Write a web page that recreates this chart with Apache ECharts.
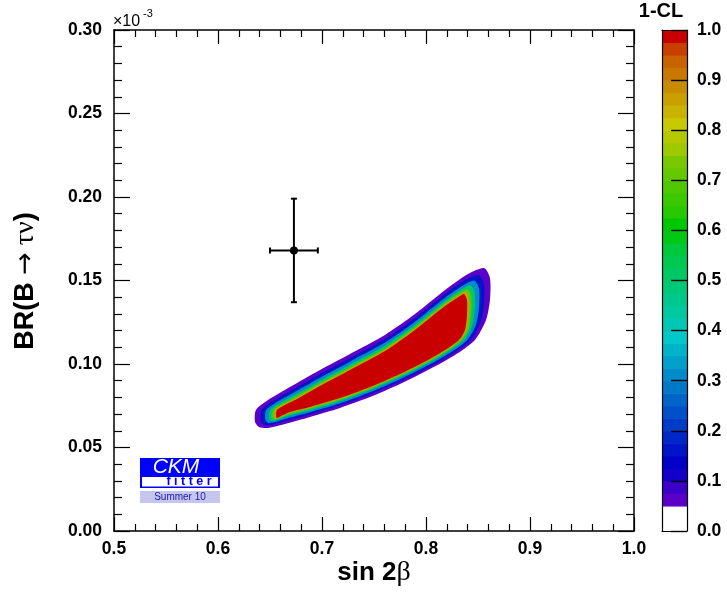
<!DOCTYPE html>
<html>
<head>
<meta charset="utf-8">
<script src="https://cdn.jsdelivr.net/npm/echarts@6/dist/echarts.min.js"></script>
<style>
html,body{margin:0;padding:0;background:#fff;}
#c{width:727px;height:600px;}
</style>
</head>
<body>
<div id="c"></div>
<script>
// ---------------- data ----------------
// measurement: sin 2beta and BR(B -> tau nu) [x 1e-3]
const measPoint = [0.673, 0.168];
const measErr = [0.023, 0.031];

// 1-CL contour levels (outer -> inner) and their closed contours [sin2b, BR]
const contourLevels = [0.05, 0.15, 0.3, 0.5, 0.7, 0.85, 0.975];
const contour005 = [[0.6356,0.0653],[0.6365,0.0725],[0.6481,0.0784],[0.6692,0.0862],[0.6981,0.0964],[0.7269,0.1060],[0.7606,0.1174],[0.7894,0.1299],[0.8183,0.1443],[0.8404,0.1539],[0.8558,0.1575],[0.8615,0.1515],[0.8615,0.1383],[0.8577,0.1263],[0.8471,0.1144],[0.8279,0.1054],[0.8038,0.0970],[0.7750,0.0880],[0.7462,0.0802],[0.7173,0.0737],[0.6885,0.0683],[0.6644,0.0641],[0.6481,0.0617],[0.6394,0.0623]];
const contour015 = [[0.6411,0.0662],[0.6420,0.0725],[0.6525,0.0776],[0.6711,0.0843],[0.6981,0.0938],[0.7269,0.1034],[0.7606,0.1148],[0.7894,0.1274],[0.8183,0.1417],[0.8383,0.1504],[0.8506,0.1533],[0.8556,0.1480],[0.8556,0.1357],[0.8522,0.1247],[0.8430,0.1144],[0.8253,0.1062],[0.8034,0.0984],[0.7750,0.0896],[0.7462,0.0819],[0.7173,0.0753],[0.6885,0.0699],[0.6658,0.0660],[0.6514,0.0636],[0.6441,0.0637]];
const contour030 = [[0.6453,0.0670],[0.6463,0.0725],[0.6560,0.0770],[0.6725,0.0828],[0.6981,0.0918],[0.7269,0.1014],[0.7606,0.1128],[0.7894,0.1253],[0.8183,0.1397],[0.8367,0.1475],[0.8465,0.1500],[0.8510,0.1452],[0.8510,0.1337],[0.8480,0.1235],[0.8397,0.1144],[0.8233,0.1068],[0.8029,0.0996],[0.7750,0.0909],[0.7462,0.0831],[0.7173,0.0765],[0.6885,0.0711],[0.6667,0.0675],[0.6540,0.0651],[0.6477,0.0648]];
const contour050 = [[0.6491,0.0677],[0.6501,0.0725],[0.6590,0.0764],[0.6738,0.0814],[0.6981,0.0900],[0.7269,0.0996],[0.7606,0.1110],[0.7894,0.1235],[0.8183,0.1379],[0.8352,0.1451],[0.8429,0.1471],[0.8467,0.1427],[0.8467,0.1319],[0.8441,0.1223],[0.8368,0.1144],[0.8214,0.1074],[0.8026,0.1006],[0.7750,0.0920],[0.7462,0.0843],[0.7173,0.0777],[0.6885,0.0723],[0.6677,0.0689],[0.6564,0.0665],[0.6511,0.0659]];
const contour070 = [[0.6521,0.0682],[0.6531,0.0725],[0.6614,0.0760],[0.6747,0.0804],[0.6981,0.0886],[0.7269,0.0981],[0.7606,0.1095],[0.7894,0.1221],[0.8183,0.1365],[0.8340,0.1431],[0.8400,0.1447],[0.8434,0.1407],[0.8434,0.1305],[0.8412,0.1214],[0.8345,0.1144],[0.8200,0.1078],[0.8023,0.1014],[0.7750,0.0929],[0.7462,0.0851],[0.7173,0.0786],[0.6885,0.0732],[0.6684,0.0699],[0.6584,0.0675],[0.6537,0.0667]];
const contour085 = [[0.6541,0.0686],[0.6551,0.0725],[0.6631,0.0757],[0.6754,0.0796],[0.6981,0.0876],[0.7269,0.0972],[0.7606,0.1086],[0.7894,0.1211],[0.8183,0.1355],[0.8333,0.1418],[0.8381,0.1432],[0.8412,0.1394],[0.8412,0.1295],[0.8391,0.1208],[0.8330,0.1144],[0.8190,0.1081],[0.8021,0.1020],[0.7750,0.0935],[0.7462,0.0857],[0.7173,0.0792],[0.6885,0.0738],[0.6688,0.0707],[0.6596,0.0683],[0.6554,0.0672]];
const contour0975 = [[0.6558,0.0689],[0.6567,0.0725],[0.6644,0.0755],[0.6760,0.0790],[0.6981,0.0868],[0.7269,0.0964],[0.7606,0.1078],[0.7894,0.1204],[0.8183,0.1347],[0.8327,0.1407],[0.8365,0.1419],[0.8394,0.1383],[0.8394,0.1287],[0.8375,0.1204],[0.8317,0.1144],[0.8183,0.1084],[0.8019,0.1024],[0.7750,0.0940],[0.7462,0.0862],[0.7173,0.0796],[0.6885,0.0743],[0.6692,0.0713],[0.6606,0.0689],[0.6567,0.0677]];
const contours = [contour005, contour015, contour030, contour050, contour070, contour085, contour0975];

// colour palette of the 1-CL scale (bands of 0.025 from 0 to 1)
const cbStep = 0.025;
const paletteColors = [
  '#ffffff','#ffffff','#5a00c8','#3c00c8','#1400c8','#0000c8','#0014c8','#0028c8',
  '#003cc8','#0050c8','#0064c8','#0078c8','#008cc8','#00a0c8','#00b4c8','#00c8c8',
  '#00c8b4','#00c8a0','#00c88c','#00c878','#00c864','#00c850','#00c83c','#00c814',
  '#00c800','#28c800','#3cc800','#50c800','#64c800','#78c800','#a0c800','#b4c800',
  '#c8c800','#c8b400','#c8a000','#c88c00','#c87800','#c86400','#c84000','#c80000'
];

// axis ranges
const xRange = [0.5, 1.0], xStep = 0.1;
const yRange = [0.0, 0.30], yStep = 0.05;
const cbRange = [0.0, 1.0], cbTickStep = 0.1;

// ---------------- chart ----------------
const FONT = '"Liberation Sans", Arial, Helvetica, sans-serif';
const SERIF = '"Liberation Serif", "Times New Roman", serif';
const chart = echarts.init(document.getElementById('c'), null, {renderer: 'canvas'});

function levelColor(L) {
  return paletteColors[Math.min(paletteColors.length - 1, Math.floor(L / cbStep + 1e-6))];
}

const lineStyle = {color: '#000', width: 1.5};
const tickStyle = {color: '#000', width: 1.2};
const labelStyle = {fontFamily: FONT, fontWeight: 'bold', fontSize: 17.5, color: '#000'};

function mainX(pos, showLabel) {
  return {
    type: 'value', gridIndex: 0, position: pos, min: xRange[0], max: xRange[1], interval: xStep, z: 10,
    axisLine: {show: true, onZero: false, lineStyle: lineStyle},
    axisTick: {show: true, inside: true, length: 14, lineStyle: tickStyle},
    minorTick: {show: true, splitNumber: 5, length: 7, lineStyle: tickStyle},
    axisLabel: Object.assign({show: showLabel, margin: 9, formatter: v => v.toFixed(1)}, labelStyle),
    splitLine: {show: false}
  };
}
function mainY(pos, showLabel) {
  return {
    type: 'value', gridIndex: 0, position: pos, min: yRange[0], max: yRange[1], interval: yStep, z: 10,
    axisLine: {show: true, onZero: false, lineStyle: lineStyle},
    axisTick: {show: true, inside: true, length: 16, lineStyle: tickStyle},
    minorTick: {show: true, splitNumber: 5, length: 8, lineStyle: tickStyle},
    axisLabel: Object.assign({show: showLabel, margin: 12, formatter: v => v.toFixed(2)}, labelStyle),
    splitLine: {show: false}
  };
}
function cbFrameX(pos) {
  return {
    type: 'value', gridIndex: 1, position: pos, min: 0, max: 1, z: 10,
    axisLine: {show: true, onZero: false, lineStyle: {color: '#000', width: 1.2}},
    axisTick: {show: false}, axisLabel: {show: false}, splitLine: {show: false}
  };
}

const option = {
  animation: false,
  backgroundColor: '#ffffff',
  grid: [
    {left: 114, top: 30, width: 520, height: 501},
    {left: 662, top: 30, width: 25, height: 501}
  ],
  xAxis: [mainX('bottom', true), mainX('top', false), cbFrameX('bottom'), cbFrameX('top')],
  yAxis: [
    mainY('left', true), mainY('right', false),
    {
      type: 'value', gridIndex: 1, position: 'right', min: cbRange[0], max: cbRange[1], interval: cbTickStep, z: 10,
      axisLine: {show: true, onZero: false, lineStyle: {color: '#000', width: 1.2}},
      axisTick: {show: true, inside: true, length: 16, lineStyle: {color: '#000', width: 1.4}},
      axisLabel: Object.assign({margin: 10, formatter: v => v.toFixed(1)}, labelStyle),
      splitLine: {show: false}
    },
    {
      type: 'value', gridIndex: 1, position: 'left', min: cbRange[0], max: cbRange[1], z: 10,
      axisLine: {show: true, onZero: false, lineStyle: {color: '#000', width: 1.2}},
      axisTick: {show: false}, axisLabel: {show: false}, splitLine: {show: false}
    }
  ],
  series: [
    {
      type: 'custom', name: 'contours', xAxisIndex: 0, yAxisIndex: 0, z: 2, clip: true,
      data: contours.map((c, i) => ({value: [c[0][0], c[0][1], contourLevels[i]]})),
      renderItem: function (params, api) {
        const i = params.dataIndex;
        const pts = contours[i].map(p => api.coord(p));
        return {
          type: 'polygon', z2: i,
          shape: {points: pts, smooth: 0.25},
          style: {fill: levelColor(contourLevels[i]), stroke: null}
        };
      }
    },
    {
      type: 'custom', name: 'measurement', xAxisIndex: 0, yAxisIndex: 0, z: 5,
      data: [[measPoint[0], measPoint[1], measErr[0], measErr[1]]],
      renderItem: function (params, api) {
        const x = api.value(0), y = api.value(1), ex = api.value(2), ey = api.value(3);
        const c = api.coord([x, y]);
        const l = api.coord([x - ex, y]), r = api.coord([x + ex, y]);
        const t = api.coord([x, y + ey]), b = api.coord([x, y - ey]);
        const st = {stroke: '#000', lineWidth: 2};
        const cap = 3;
        return {
          type: 'group',
          children: [
            {type: 'line', shape: {x1: l[0], y1: l[1], x2: r[0], y2: r[1]}, style: st},
            {type: 'line', shape: {x1: t[0], y1: t[1], x2: b[0], y2: b[1]}, style: st},
            {type: 'line', shape: {x1: l[0], y1: l[1] - cap, x2: l[0], y2: l[1] + cap}, style: st},
            {type: 'line', shape: {x1: r[0], y1: r[1] - cap, x2: r[0], y2: r[1] + cap}, style: st},
            {type: 'line', shape: {x1: t[0] - cap, y1: t[1], x2: t[0] + cap, y2: t[1]}, style: st},
            {type: 'line', shape: {x1: b[0] - cap, y1: b[1], x2: b[0] + cap, y2: b[1]}, style: st},
            {type: 'circle', shape: {cx: c[0], cy: c[1], r: 4}, style: {fill: '#000'}}
          ]
        };
      }
    },
    {
      type: 'custom', name: 'colorbar', xAxisIndex: 2, yAxisIndex: 2, z: 2,
      data: paletteColors.map((col, i) => [i * cbStep, (i + 1) * cbStep, i]),
      renderItem: function (params, api) {
        const lo = api.value(0), hi = api.value(1), i = api.value(2);
        const p1 = api.coord([0, hi]), p2 = api.coord([1, lo]);
        return {
          type: 'rect',
          shape: {x: p1[0], y: p1[1], width: p2[0] - p1[0], height: p2[1] - p1[1] + 0.6},
          style: {fill: paletteColors[i]}
        };
      }
    }
  ],
  graphic: [
    {type: 'text', x: 113, y: 22, style: {text: '\u00d710', font: '16px ' + FONT, fill: '#000', textAlign: 'left', textVerticalAlign: 'middle'}},
    {type: 'text', x: 143, y: 14, style: {text: '-3', font: '11px ' + FONT, fill: '#000', textAlign: 'left', textVerticalAlign: 'middle'}},
    {
      type: 'text', x: 374, y: 573,
      style: {
        text: '{b|sin 2}{g|\u03b2}', textAlign: 'center', textVerticalAlign: 'middle',
        rich: {
          b: {font: 'bold 26px ' + FONT, fill: '#000'},
          g: {font: '28px ' + SERIF, fill: '#000'}
        }
      }
    },
    {
      type: 'text', x: 26, y: 281, rotation: Math.PI / 2,
      style: {
        text: '{b|BR(B }{a|\u2192}{g| \u03c4\u03bd}{b|)}',
        textAlign: 'center', textVerticalAlign: 'middle',
        rich: {
          b: {font: 'bold 27px ' + FONT, fill: '#000'},
          a: {font: '27px "DejaVu Sans", sans-serif', fill: '#000'},
          g: {font: '28px ' + SERIF, fill: '#000'}
        }
      }
    },
    {type: 'text', x: 661, y: 11, style: {text: '1-CL', font: 'bold 20px ' + FONT, fill: '#000', textAlign: 'center', textVerticalAlign: 'middle'}},
    // CKMfitter logo
    {type: 'rect', shape: {x: 140, y: 458, width: 80, height: 30}, style: {fill: '#0000ff'}},
    {type: 'text', x: 176, y: 467.5, style: {text: 'CKM', font: 'italic 21px ' + FONT, fill: '#fff', textAlign: 'center', textVerticalAlign: 'middle'}},
    {type: 'rect', shape: {x: 142, y: 477, width: 76, height: 9.5}, style: {fill: '#ffffff'}},
    {type: 'text', x: 189, y: 482, style: {text: 'f i t t e r', font: 'bold 12.5px ' + FONT, fill: '#0000ff', textAlign: 'center', textVerticalAlign: 'middle'}},
    {type: 'rect', shape: {x: 140, y: 491, width: 80, height: 12}, style: {fill: '#c5c5f0'}},
    {type: 'text', x: 180, y: 497.5, style: {text: 'Summer 10', font: '10px ' + FONT, fill: '#1a1aa0', textAlign: 'center', textVerticalAlign: 'middle'}}
  ]
};
chart.setOption(option);
</script>
</body>
</html>
